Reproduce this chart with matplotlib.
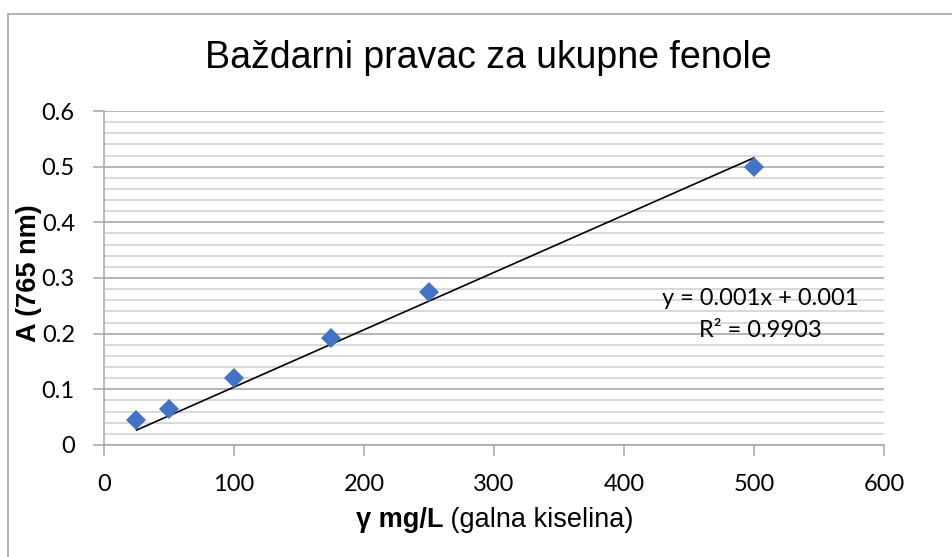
import numpy as np
import matplotlib.pyplot as plt
from matplotlib.patches import Rectangle
from matplotlib.ticker import MultipleLocator

# podaci (galna kiselina)
koncentracija = [25, 50, 100, 175, 250, 500]
apsorbancija = [0.045, 0.064, 0.120, 0.192, 0.275, 0.499]

# trend linija (kako je prikazana na grafu)
trend_nagib = 0.00103
trend_odsjecak = 0.001
jednadzba = "y = 0.001x + 0.001\nR² = 0.9903"

fig = plt.figure(figsize=(9.53, 5.57), dpi=100)
ax = fig.add_axes([0.1091, 0.2011, 0.8185, 0.5996])

gray = "#a6a6a6"
ax.yaxis.set_major_locator(MultipleLocator(0.1))
ax.yaxis.set_minor_locator(MultipleLocator(0.02))
ax.xaxis.set_major_locator(MultipleLocator(100))
ax.grid(True, which="major", axis="y", color="#a0a0a0", lw=1.1)
ax.grid(True, which="minor", axis="y", color="#d0d0d0", lw=1.1)
ax.set_axisbelow(True)

trend_x = np.array([min(koncentracija), max(koncentracija)])
ax.plot(trend_x, trend_nagib * trend_x + trend_odsjecak, color="black", lw=1.2, zorder=3)
ax.plot(koncentracija, apsorbancija, "D", color="#4472C4", markersize=10,
        markeredgewidth=0, zorder=4)

ax.set_xlim(0, 600)
ax.set_ylim(0, 0.6)
ax.set_yticks([0, 0.1, 0.2, 0.3, 0.4, 0.5, 0.6])
ax.set_yticklabels(["0", "0.1", "0.2", "0.3", "0.4", "0.5", "0.6"])

for s in ["top", "right"]:
    ax.spines[s].set_visible(False)
for s in ["left", "bottom"]:
    ax.spines[s].set_color(gray)
    ax.spines[s].set_linewidth(1.1)
ax.tick_params(which="major", length=8, width=1.1, color=gray, pad=13, labelsize=17)
ax.tick_params(which="minor", length=0)
for lab in ax.get_xticklabels() + ax.get_yticklabels():
    lab.set_fontfamily("Lato")
    lab.set_fontsize(17)

ax.text(505, 0.2344, jednadzba, ha="center", va="center", fontsize=17,
        family="Lato", linespacing=1.6, zorder=5)

fig.text(488.5 / 953, 1 - 68 / 557, "Baždarni pravac za ukupne fenole", ha="center",
         va="baseline", fontsize=27, family="Liberation Sans")

# naslov x osi: dio podebljan, dio normalan
xl1 = fig.text(0.0, 0.0, "γ mg/L", fontsize=19.5, family="Liberation Sans",
               fontweight="bold", va="baseline")
xl2 = fig.text(0.0, 0.0, " (galna kiselina)", fontsize=19.5, family="Liberation Sans",
               va="baseline")
fig.canvas.draw()
r = fig.canvas.get_renderer()
w1 = xl1.get_window_extent(r).width
w2 = xl2.get_window_extent(r).width
x0 = (494.5 - (w1 + w2) / 2) / 953
xl1.set_position((x0, 1 - 527 / 557))
xl2.set_position((x0 + w1 / 953, 1 - 527 / 557))

fig.text(29.5 / 953, 1 - 273.5 / 557, "A (765 nm)", rotation=90, ha="center", va="center",
         fontsize=19.5, family="Liberation Sans", fontweight="bold")

fig.patches.append(Rectangle((8 / 953, -0.1), 1.2, 1 - 14 / 557 + 0.1,
                             transform=fig.transFigure, fill=False, ec=gray, lw=1.2))

fig.savefig("out.png", dpi=100)
